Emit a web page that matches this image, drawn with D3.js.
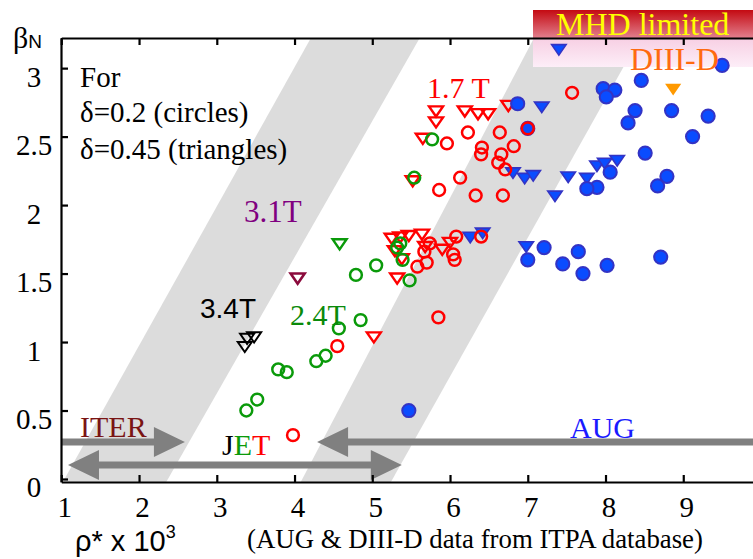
<!DOCTYPE html>
<html>
<head>
<meta charset="utf-8">
<script src="https://cdn.jsdelivr.net/npm/d3@7"></script>
<style>
body { margin: 0; background: #fff; }
svg { display: block; }
</style>
</head>
<body>
<script>
// values: [rho* x 10^3, beta_N]
var jet17Circles = [[7.57,2.82],[6.23,2.53],[6.64,2.53],[5.96,2.45],[6.41,2.42],[6.82,2.43],[6.40,2.37],[6.66,2.37],
    [6.62,2.31],[6.71,2.26],[7.00,2.56],[6.13,2.20],[5.86,2.11],[6.33,2.07],[6.68,2.07],[6.08,1.77],[6.40,1.77],
    [5.74,1.72],[5.67,1.66],[5.70,1.58],[5.58,1.55],[6.04,1.64],[6.06,1.60],[5.85,1.18],[4.55,0.97],[3.98,0.32]];
var jet17Triangles = [[5.82,2.69],[5.82,2.61],[6.19,2.69],[6.36,2.67],[6.49,2.67],[6.75,2.73],[5.65,2.49],[5.52,2.18],
    [5.25,1.76],[5.36,1.77],[5.47,1.78],[5.64,1.79],[5.29,1.67],[5.38,1.61],[5.68,1.70],[5.90,1.68],[6.00,1.73],
    [5.32,1.47],[5.02,1.04]];
var jet24Circles = [[5.77,2.48],[5.54,2.20],[5.36,1.72],[5.32,1.69],[5.39,1.60],[5.05,1.56],[4.79,1.49],[5.48,1.45],
    [4.57,1.10],[4.85,1.16],[4.40,0.90],[4.28,0.86],[3.90,0.78],[3.79,0.80],[3.52,0.58],[3.38,0.50]];
var jet24Triangles = [[4.58,1.72]];
var jet31Triangles = [[4.04,1.47]];
var jet34Triangles = [[3.39,1.03],[3.48,1.04],[3.36,0.97]];
var augCircles = [[9.50,3.02],[8.46,2.91],[7.97,2.85],[8.12,2.84],[8.01,2.79],[6.87,2.74],[7.00,2.56],[8.38,2.69],
    [8.29,2.60],[8.85,2.69],[9.32,2.65],[9.12,2.50],[8.51,2.38],[8.06,2.24],[8.79,2.21],[8.67,2.14],[7.89,2.13],
    [7.76,2.12],[7.21,1.69],[7.00,1.60],[7.65,1.66],[7.45,1.57],[7.71,1.50],[8.02,1.56],[8.71,1.62],[5.47,0.50]];
var augTriangles = [[7.40,3.14],[7.18,2.72],[6.81,2.24],[6.96,2.20],[7.07,2.22],[7.52,2.21],[7.76,2.20],[7.89,2.29],
    [7.99,2.31],[8.15,2.33],[7.35,2.07],[6.26,1.77],[6.42,1.80],[6.98,1.70]];
var diiidTriangles = [[8.87,2.85]];

var xTicks = [1, 2, 3, 4, 5, 6, 7, 8, 9];
var yTicks = [0, 0.5, 1, 1.5, 2, 2.5, 3];

var svgWidth = 753, svgHeight = 559;
var serif = "'Liberation Serif', 'Times New Roman', serif";
var sans = "'Liberation Sans', Arial, sans-serif";

var svg = d3.select("body").append("svg")
    .attr("width", svgWidth)
    .attr("height", svgHeight)
    .style("background", "#fff");

var x = d3.scaleLinear().domain([1, 10]).range([61.3, 761]);
var y = d3.scaleLinear().domain([-0.022, 3.22]).range([482, 38]);

var defs = svg.append("defs");
var g1 = defs.append("linearGradient").attr("id", "mhd").attr("x1", 0).attr("y1", 0).attr("x2", 0).attr("y2", 1);
g1.append("stop").attr("offset", "0%").attr("stop-color", "#c40a12");
g1.append("stop").attr("offset", "100%").attr("stop-color", "#e2808e");
var g2 = defs.append("linearGradient").attr("id", "pink").attr("x1", 0).attr("y1", 0).attr("x2", 0).attr("y2", 1);
g2.append("stop").attr("offset", "0%").attr("stop-color", "#f7cfe3");
g2.append("stop").attr("offset", "100%").attr("stop-color", "#fdeef8");

// grey rho* bands (slanted)
var bands = [
    [[1.02, -0.022], [4.21, 3.22], [5.61, 3.22], [2.35, -0.022]],
    [[4.08, -0.022], [7.08, 3.22], [8.44, 3.22], [5.24, -0.022]]
];
svg.selectAll(".band").data(bands).enter().append("path")
    .attr("class", "band")
    .attr("d", function(d) { return "M" + d.map(function(p) { return x(p[0]) + "," + y(p[1]); }).join("L") + "Z"; })
    .attr("fill", "#dcdcdc");

// MHD limited / DIII-D box
svg.append("rect").attr("x", 533).attr("y", 10).attr("width", 230).attr("height", 28).attr("fill", "url(#mhd)");
svg.append("rect").attr("x", 533).attr("y", 38).attr("width", 230).attr("height", 29).attr("fill", "url(#pink)");

// arrows
function arrow(x1, x2, yv, leftHead, rightHead) {
    var a = x(x1), b = x(x2), c = y(yv), t = 3.5, hw = 15, hl = 31;
    var p = d3.path();
    var sa = leftHead ? a + hl : a, sb = rightHead ? b - hl : b;
    p.moveTo(sa, c - t);
    p.lineTo(sb, c - t);
    if (rightHead) { p.lineTo(sb, c - hw); p.lineTo(b, c); p.lineTo(sb, c + hw); }
    p.lineTo(sb, c + t);
    p.lineTo(sa, c + t);
    if (leftHead) { p.lineTo(sa, c + hw); p.lineTo(a, c); p.lineTo(sa, c - hw); }
    p.closePath();
    svg.append("path").attr("d", p.toString()).attr("fill", "#808080");
}
arrow(1, 2.59, 0.27, false, true);      // ITER
arrow(1.086, 5.38, 0.102, true, true);  // JET
arrow(4.29, 10, 0.27, true, false);     // AUG

// axes
var axisBottom = d3.axisBottom(x).tickValues(xTicks).tickSizeInner(-7).tickSizeOuter(0).tickPadding(14)
    .tickFormat(d3.format("d"));
var axisTop = d3.axisTop(x).tickValues(xTicks).tickSizeInner(-7).tickSizeOuter(0).tickFormat("");
var axisLeft = d3.axisLeft(y).tickValues(yTicks).tickSizeInner(-7).tickSizeOuter(0).tickPadding(27)
    .tickFormat(function(d) { return String(d); });

var gb = svg.append("g").attr("transform", "translate(0,482)").call(axisBottom);
var gt = svg.append("g").attr("transform", "translate(0,38)").call(axisTop);
var gl = svg.append("g").attr("transform", "translate(61,0)").call(axisLeft);
[gb, gt, gl].forEach(function(g) {
    g.selectAll("path, line").attr("stroke", "#000").attr("stroke-width", 2.2);
    g.selectAll("text").attr("fill", "#000").style("font-family", serif).style("font-size", "29px");
});
gb.selectAll("text").attr("dx", 3);
gl.selectAll("text").attr("text-anchor", "middle").attr("dy", 18);

// markers
var downTri = {
    draw: function(ctx, size) {
        var w = Math.sqrt(size) / 2;
        ctx.moveTo(-w, -0.6 * w);
        ctx.lineTo(w, -0.6 * w);
        ctx.lineTo(0, 0.85 * w);
        ctx.closePath();
    }
};

function triangles(data, size, fill, stroke, sw) {
    svg.append("g").selectAll("path").data(data).enter().append("path")
        .attr("transform", function(d) { return "translate(" + x(d[0]) + "," + y(d[1]) + ")"; })
        .attr("d", d3.symbol().type(downTri).size(size))
        .attr("fill", fill).attr("stroke", stroke).attr("stroke-width", sw);
}
function circles(data, r, fill, stroke, sw) {
    svg.append("g").selectAll("circle").data(data).enter().append("circle")
        .attr("cx", function(d) { return x(d[0]); })
        .attr("cy", function(d) { return y(d[1]); })
        .attr("r", r)
        .attr("fill", fill).attr("stroke", stroke).attr("stroke-width", sw);
}

triangles(jet17Triangles, 196, "none", "#ff0000", 2.4);
triangles(augTriangles, 210, "#0a4cff", "#3333c4", 1.6);
circles(augCircles, 6.6, "#0a4cff", "#3333c4", 2);
circles(jet17Circles, 5.9, "none", "#ff0000", 2.5);
circles(jet24Circles, 5.9, "none", "#0a9a0a", 2.5);
triangles(jet24Triangles, 196, "none", "#0a9a0a", 2.4);
triangles(jet31Triangles, 196, "none", "#8b0a3c", 2.6);
triangles(jet34Triangles, 196, "none", "#000", 2);
triangles(diiidTriangles, 260, "#ff9900", "none", 0);

// text
function label(tx, ty, str, color, size, family) {
    return svg.append("text").attr("x", tx).attr("y", ty).text(str)
        .attr("fill", color).style("font-size", size + "px").style("font-family", family || serif);
}
label(80, 87, "For", "#000", 29);
label(80, 122, "δ=0.2 (circles)", "#000", 29);
label(80, 159, "δ=0.45 (triangles)", "#000", 29);
label(427, 98, "1.7 T", "#ff0000", 30);
label(244, 222, "3.1T", "#800080", 31);
label(200, 318, "3.4T", "#000", 28, sans);
label(290, 325, "2.4T", "#0a8a0a", 30);
label(80, 437, "ITER", "#7a1414", 30);
label(570, 438, "AUG", "#1a1aff", 30);
label(556, 35, "MHD limited", "#ffff00", 32);
label(630, 70, "DIII-D", "#ff6a10", 32);

var jet = svg.append("text").attr("x", 222).attr("y", 455).style("font-size", "30px").style("font-family", serif);
jet.append("tspan").text("J").attr("fill", "#000");
jet.append("tspan").text("E").attr("fill", "#0a9a0a");
jet.append("tspan").text("T").attr("fill", "#ff0000");

// axis titles
var bt = svg.append("text").attr("x", 13).attr("y", 48).style("font-family", serif).style("font-size", "30px");
bt.append("tspan").text("β");
bt.append("tspan").text("N").style("font-family", sans).style("font-size", "19px");

var xt = svg.append("text").attr("x", 75).attr("y", 551).style("font-family", sans).style("font-size", "29px");
xt.append("tspan").text("ρ* x 10");
xt.append("tspan").text("3").attr("dy", -13).style("font-size", "18px");

label(247, 548, "(AUG & DIII-D data from ITPA database)", "#000", 26.8);
</script>
</body>
</html>
